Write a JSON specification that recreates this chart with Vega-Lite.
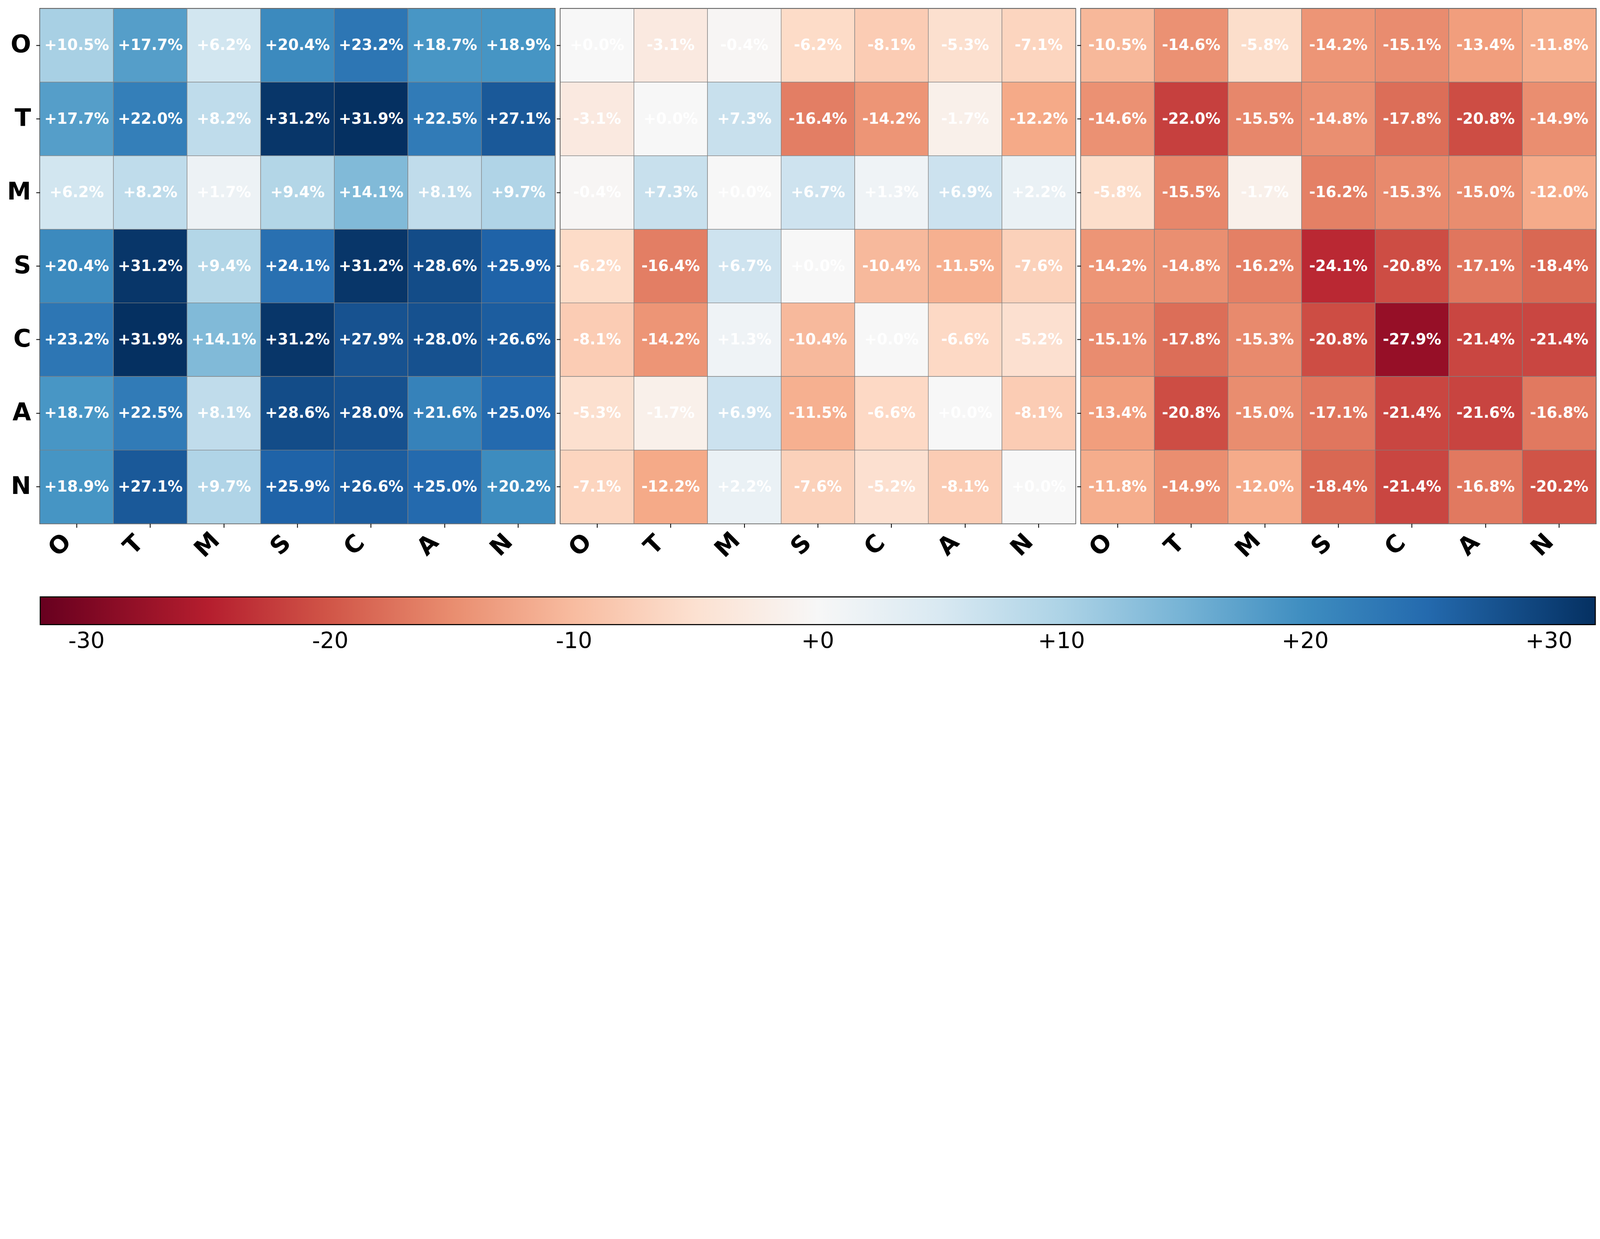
{
  "$schema": "https://vega.github.io/schema/vega-lite/v6.json",
  "padding": {"left": 16, "top": 20, "right": 18, "bottom": 18},
  "background": "white",
  "bounds": "flush",
  "spacing": 13.4,
  "datasets": {
    "cells": [
      {"p":1,"row":"O","col":"O","v":10.5},{"p":1,"row":"O","col":"T","v":17.7},{"p":1,"row":"O","col":"M","v":6.2},{"p":1,"row":"O","col":"S","v":20.4},{"p":1,"row":"O","col":"C","v":23.2},{"p":1,"row":"O","col":"A","v":18.7},{"p":1,"row":"O","col":"N","v":18.9},
      {"p":1,"row":"T","col":"O","v":17.7},{"p":1,"row":"T","col":"T","v":22.0},{"p":1,"row":"T","col":"M","v":8.2},{"p":1,"row":"T","col":"S","v":31.2},{"p":1,"row":"T","col":"C","v":31.9},{"p":1,"row":"T","col":"A","v":22.5},{"p":1,"row":"T","col":"N","v":27.1},
      {"p":1,"row":"M","col":"O","v":6.2},{"p":1,"row":"M","col":"T","v":8.2},{"p":1,"row":"M","col":"M","v":1.7},{"p":1,"row":"M","col":"S","v":9.4},{"p":1,"row":"M","col":"C","v":14.1},{"p":1,"row":"M","col":"A","v":8.1},{"p":1,"row":"M","col":"N","v":9.7},
      {"p":1,"row":"S","col":"O","v":20.4},{"p":1,"row":"S","col":"T","v":31.2},{"p":1,"row":"S","col":"M","v":9.4},{"p":1,"row":"S","col":"S","v":24.1},{"p":1,"row":"S","col":"C","v":31.2},{"p":1,"row":"S","col":"A","v":28.6},{"p":1,"row":"S","col":"N","v":25.9},
      {"p":1,"row":"C","col":"O","v":23.2},{"p":1,"row":"C","col":"T","v":31.9},{"p":1,"row":"C","col":"M","v":14.1},{"p":1,"row":"C","col":"S","v":31.2},{"p":1,"row":"C","col":"C","v":27.9},{"p":1,"row":"C","col":"A","v":28.0},{"p":1,"row":"C","col":"N","v":26.6},
      {"p":1,"row":"A","col":"O","v":18.7},{"p":1,"row":"A","col":"T","v":22.5},{"p":1,"row":"A","col":"M","v":8.1},{"p":1,"row":"A","col":"S","v":28.6},{"p":1,"row":"A","col":"C","v":28.0},{"p":1,"row":"A","col":"A","v":21.6},{"p":1,"row":"A","col":"N","v":25.0},
      {"p":1,"row":"N","col":"O","v":18.9},{"p":1,"row":"N","col":"T","v":27.1},{"p":1,"row":"N","col":"M","v":9.7},{"p":1,"row":"N","col":"S","v":25.9},{"p":1,"row":"N","col":"C","v":26.6},{"p":1,"row":"N","col":"A","v":25.0},{"p":1,"row":"N","col":"N","v":20.2},

      {"p":2,"row":"O","col":"O","v":0.0},{"p":2,"row":"O","col":"T","v":-3.1},{"p":2,"row":"O","col":"M","v":-0.4},{"p":2,"row":"O","col":"S","v":-6.2},{"p":2,"row":"O","col":"C","v":-8.1},{"p":2,"row":"O","col":"A","v":-5.3},{"p":2,"row":"O","col":"N","v":-7.1},
      {"p":2,"row":"T","col":"O","v":-3.1},{"p":2,"row":"T","col":"T","v":0.0},{"p":2,"row":"T","col":"M","v":7.3},{"p":2,"row":"T","col":"S","v":-16.4},{"p":2,"row":"T","col":"C","v":-14.2},{"p":2,"row":"T","col":"A","v":-1.7},{"p":2,"row":"T","col":"N","v":-12.2},
      {"p":2,"row":"M","col":"O","v":-0.4},{"p":2,"row":"M","col":"T","v":7.3},{"p":2,"row":"M","col":"M","v":0.0},{"p":2,"row":"M","col":"S","v":6.7},{"p":2,"row":"M","col":"C","v":1.3},{"p":2,"row":"M","col":"A","v":6.9},{"p":2,"row":"M","col":"N","v":2.2},
      {"p":2,"row":"S","col":"O","v":-6.2},{"p":2,"row":"S","col":"T","v":-16.4},{"p":2,"row":"S","col":"M","v":6.7},{"p":2,"row":"S","col":"S","v":0.0},{"p":2,"row":"S","col":"C","v":-10.4},{"p":2,"row":"S","col":"A","v":-11.5},{"p":2,"row":"S","col":"N","v":-7.6},
      {"p":2,"row":"C","col":"O","v":-8.1},{"p":2,"row":"C","col":"T","v":-14.2},{"p":2,"row":"C","col":"M","v":1.3},{"p":2,"row":"C","col":"S","v":-10.4},{"p":2,"row":"C","col":"C","v":0.0},{"p":2,"row":"C","col":"A","v":-6.6},{"p":2,"row":"C","col":"N","v":-5.2},
      {"p":2,"row":"A","col":"O","v":-5.3},{"p":2,"row":"A","col":"T","v":-1.7},{"p":2,"row":"A","col":"M","v":6.9},{"p":2,"row":"A","col":"S","v":-11.5},{"p":2,"row":"A","col":"C","v":-6.6},{"p":2,"row":"A","col":"A","v":0.0},{"p":2,"row":"A","col":"N","v":-8.1},
      {"p":2,"row":"N","col":"O","v":-7.1},{"p":2,"row":"N","col":"T","v":-12.2},{"p":2,"row":"N","col":"M","v":2.2},{"p":2,"row":"N","col":"S","v":-7.6},{"p":2,"row":"N","col":"C","v":-5.2},{"p":2,"row":"N","col":"A","v":-8.1},{"p":2,"row":"N","col":"N","v":0.0},

      {"p":3,"row":"O","col":"O","v":-10.5},{"p":3,"row":"O","col":"T","v":-14.6},{"p":3,"row":"O","col":"M","v":-5.8},{"p":3,"row":"O","col":"S","v":-14.2},{"p":3,"row":"O","col":"C","v":-15.1},{"p":3,"row":"O","col":"A","v":-13.4},{"p":3,"row":"O","col":"N","v":-11.8},
      {"p":3,"row":"T","col":"O","v":-14.6},{"p":3,"row":"T","col":"T","v":-22.0},{"p":3,"row":"T","col":"M","v":-15.5},{"p":3,"row":"T","col":"S","v":-14.8},{"p":3,"row":"T","col":"C","v":-17.8},{"p":3,"row":"T","col":"A","v":-20.8},{"p":3,"row":"T","col":"N","v":-14.9},
      {"p":3,"row":"M","col":"O","v":-5.8},{"p":3,"row":"M","col":"T","v":-15.5},{"p":3,"row":"M","col":"M","v":-1.7},{"p":3,"row":"M","col":"S","v":-16.2},{"p":3,"row":"M","col":"C","v":-15.3},{"p":3,"row":"M","col":"A","v":-15.0},{"p":3,"row":"M","col":"N","v":-12.0},
      {"p":3,"row":"S","col":"O","v":-14.2},{"p":3,"row":"S","col":"T","v":-14.8},{"p":3,"row":"S","col":"M","v":-16.2},{"p":3,"row":"S","col":"S","v":-24.1},{"p":3,"row":"S","col":"C","v":-20.8},{"p":3,"row":"S","col":"A","v":-17.1},{"p":3,"row":"S","col":"N","v":-18.4},
      {"p":3,"row":"C","col":"O","v":-15.1},{"p":3,"row":"C","col":"T","v":-17.8},{"p":3,"row":"C","col":"M","v":-15.3},{"p":3,"row":"C","col":"S","v":-20.8},{"p":3,"row":"C","col":"C","v":-27.9},{"p":3,"row":"C","col":"A","v":-21.4},{"p":3,"row":"C","col":"N","v":-21.4},
      {"p":3,"row":"A","col":"O","v":-13.4},{"p":3,"row":"A","col":"T","v":-20.8},{"p":3,"row":"A","col":"M","v":-15.0},{"p":3,"row":"A","col":"S","v":-17.1},{"p":3,"row":"A","col":"C","v":-21.4},{"p":3,"row":"A","col":"A","v":-21.6},{"p":3,"row":"A","col":"N","v":-16.8},
      {"p":3,"row":"N","col":"O","v":-11.8},{"p":3,"row":"N","col":"T","v":-14.9},{"p":3,"row":"N","col":"M","v":-12.0},{"p":3,"row":"N","col":"S","v":-18.4},{"p":3,"row":"N","col":"C","v":-21.4},{"p":3,"row":"N","col":"A","v":-16.8},{"p":3,"row":"N","col":"N","v":-20.2}
    ]
  },
  "config": {
    "view": {"stroke": "black", "strokeWidth": 2.3},
    "font": "DejaVu Sans",
    "axis": {
      "domain": false, "grid": false, "tickColor": "black", "tickWidth": 2.1,
      "labelColor": "black", "labelFont": "DejaVu Sans", "labelFontWeight": "bold", "labelFontSize": 61.5
    },
    "axisX": {"tickSize": 10, "labelAngle": -45, "labelAlign": "center", "labelBaseline": "middle", "labelPadding": 45, "labelOffset": -42},
    "axisY": {"tickSize": 9.6, "labelPadding": 13.4, "labelAngle": 0},
    "legend": {"labelFont": "DejaVu Sans", "labelColor": "black"}
  },
  "hconcat": [
    {
      "width": 1319, "height": 1319,
      "data": {"name": "cells"},
      "transform": [{"filter": "datum.p == 1"}],
      "encoding": {
        "x": {"field": "col", "type": "nominal", "sort": ["O","T","M","S","C","A","N"], "scale": {"paddingInner": 0, "paddingOuter": 0}, "axis": {"title": null}},
        "y": {"field": "row", "type": "nominal", "sort": ["O","T","M","S","C","A","N"], "scale": {"paddingInner": 0, "paddingOuter": 0}, "axis": {"title": null}}
      },
      "layer": [
        {
          "mark": {"type": "rect", "stroke": "#808080", "strokeWidth": 1.25},
          "encoding": {
            "color": {
              "field": "v", "type": "quantitative",
              "scale": {"domain": [-31.9, -25.52, -19.14, -12.76, -6.38, 0, 6.38, 12.76, 19.14, 25.52, 31.9], "range": ["#67001f","#b2182b","#d6604d","#f4a582","#fddbc7","#f7f7f7","#d1e5f0","#92c5de","#4393c3","#2166ac","#053061"], "interpolate": "rgb"},
              "legend": {
                "orient": "none", "legendX": 1, "legendY": 1506.6, "direction": "horizontal",
                "title": null, "gradientLength": 3981, "gradientThickness": 71,
                "gradientStrokeColor": "black", "gradientStrokeWidth": 2.7,
                "values": [-30, -20, -10, 0, 10, 20, 30],
                "labelExpr": "(datum.value >= 0 ? '+' : '-') + abs(datum.value)",
                "labelFontSize": 57, "labelOffset": 15, "labelOverlap": false
              }
            }
          }
        },
        {
          "mark": {"type": "text", "color": "white", "fontSize": 38.5, "fontWeight": "bold", "font": "DejaVu Sans", "baseline": "middle",
                   "text": {"expr": "(datum.v < 0 ? '-' : '+') + format(abs(datum.v), '.1f') + '%'"}},
          "encoding": {}
        }
      ]
    },
    {
      "width": 1319, "height": 1319,
      "data": {"name": "cells"},
      "transform": [{"filter": "datum.p == 2"}],
      "encoding": {
        "x": {"field": "col", "type": "nominal", "sort": ["O","T","M","S","C","A","N"], "scale": {"paddingInner": 0, "paddingOuter": 0}, "axis": {"title": null}},
        "y": {"field": "row", "type": "nominal", "sort": ["O","T","M","S","C","A","N"], "scale": {"paddingInner": 0, "paddingOuter": 0}, "axis": {"title": null, "labels": false, "labelPadding": 0}}
      },
      "layer": [
        {
          "mark": {"type": "rect", "stroke": "#808080", "strokeWidth": 1.25},
          "encoding": {
            "color": {
              "field": "v", "type": "quantitative",
              "scale": {"domain": [-31.9, -25.52, -19.14, -12.76, -6.38, 0, 6.38, 12.76, 19.14, 25.52, 31.9], "range": ["#67001f","#b2182b","#d6604d","#f4a582","#fddbc7","#f7f7f7","#d1e5f0","#92c5de","#4393c3","#2166ac","#053061"], "interpolate": "rgb"}
            }
          }
        },
        {
          "mark": {"type": "text", "color": "white", "fontSize": 38.5, "fontWeight": "bold", "font": "DejaVu Sans", "baseline": "middle",
                   "text": {"expr": "(datum.v < 0 ? '-' : '+') + format(abs(datum.v), '.1f') + '%'"}},
          "encoding": {}
        }
      ]
    },
    {
      "width": 1319, "height": 1319,
      "data": {"name": "cells"},
      "transform": [{"filter": "datum.p == 3"}],
      "encoding": {
        "x": {"field": "col", "type": "nominal", "sort": ["O","T","M","S","C","A","N"], "scale": {"paddingInner": 0, "paddingOuter": 0}, "axis": {"title": null}},
        "y": {"field": "row", "type": "nominal", "sort": ["O","T","M","S","C","A","N"], "scale": {"paddingInner": 0, "paddingOuter": 0}, "axis": {"title": null, "labels": false, "labelPadding": 0}}
      },
      "layer": [
        {
          "mark": {"type": "rect", "stroke": "#808080", "strokeWidth": 1.25},
          "encoding": {
            "color": {
              "field": "v", "type": "quantitative",
              "scale": {"domain": [-31.9, -25.52, -19.14, -12.76, -6.38, 0, 6.38, 12.76, 19.14, 25.52, 31.9], "range": ["#67001f","#b2182b","#d6604d","#f4a582","#fddbc7","#f7f7f7","#d1e5f0","#92c5de","#4393c3","#2166ac","#053061"], "interpolate": "rgb"}
            }
          }
        },
        {
          "mark": {"type": "text", "color": "white", "fontSize": 38.5, "fontWeight": "bold", "font": "DejaVu Sans", "baseline": "middle",
                   "text": {"expr": "(datum.v < 0 ? '-' : '+') + format(abs(datum.v), '.1f') + '%'"}},
          "encoding": {}
        }
      ]
    }
  ]
}
